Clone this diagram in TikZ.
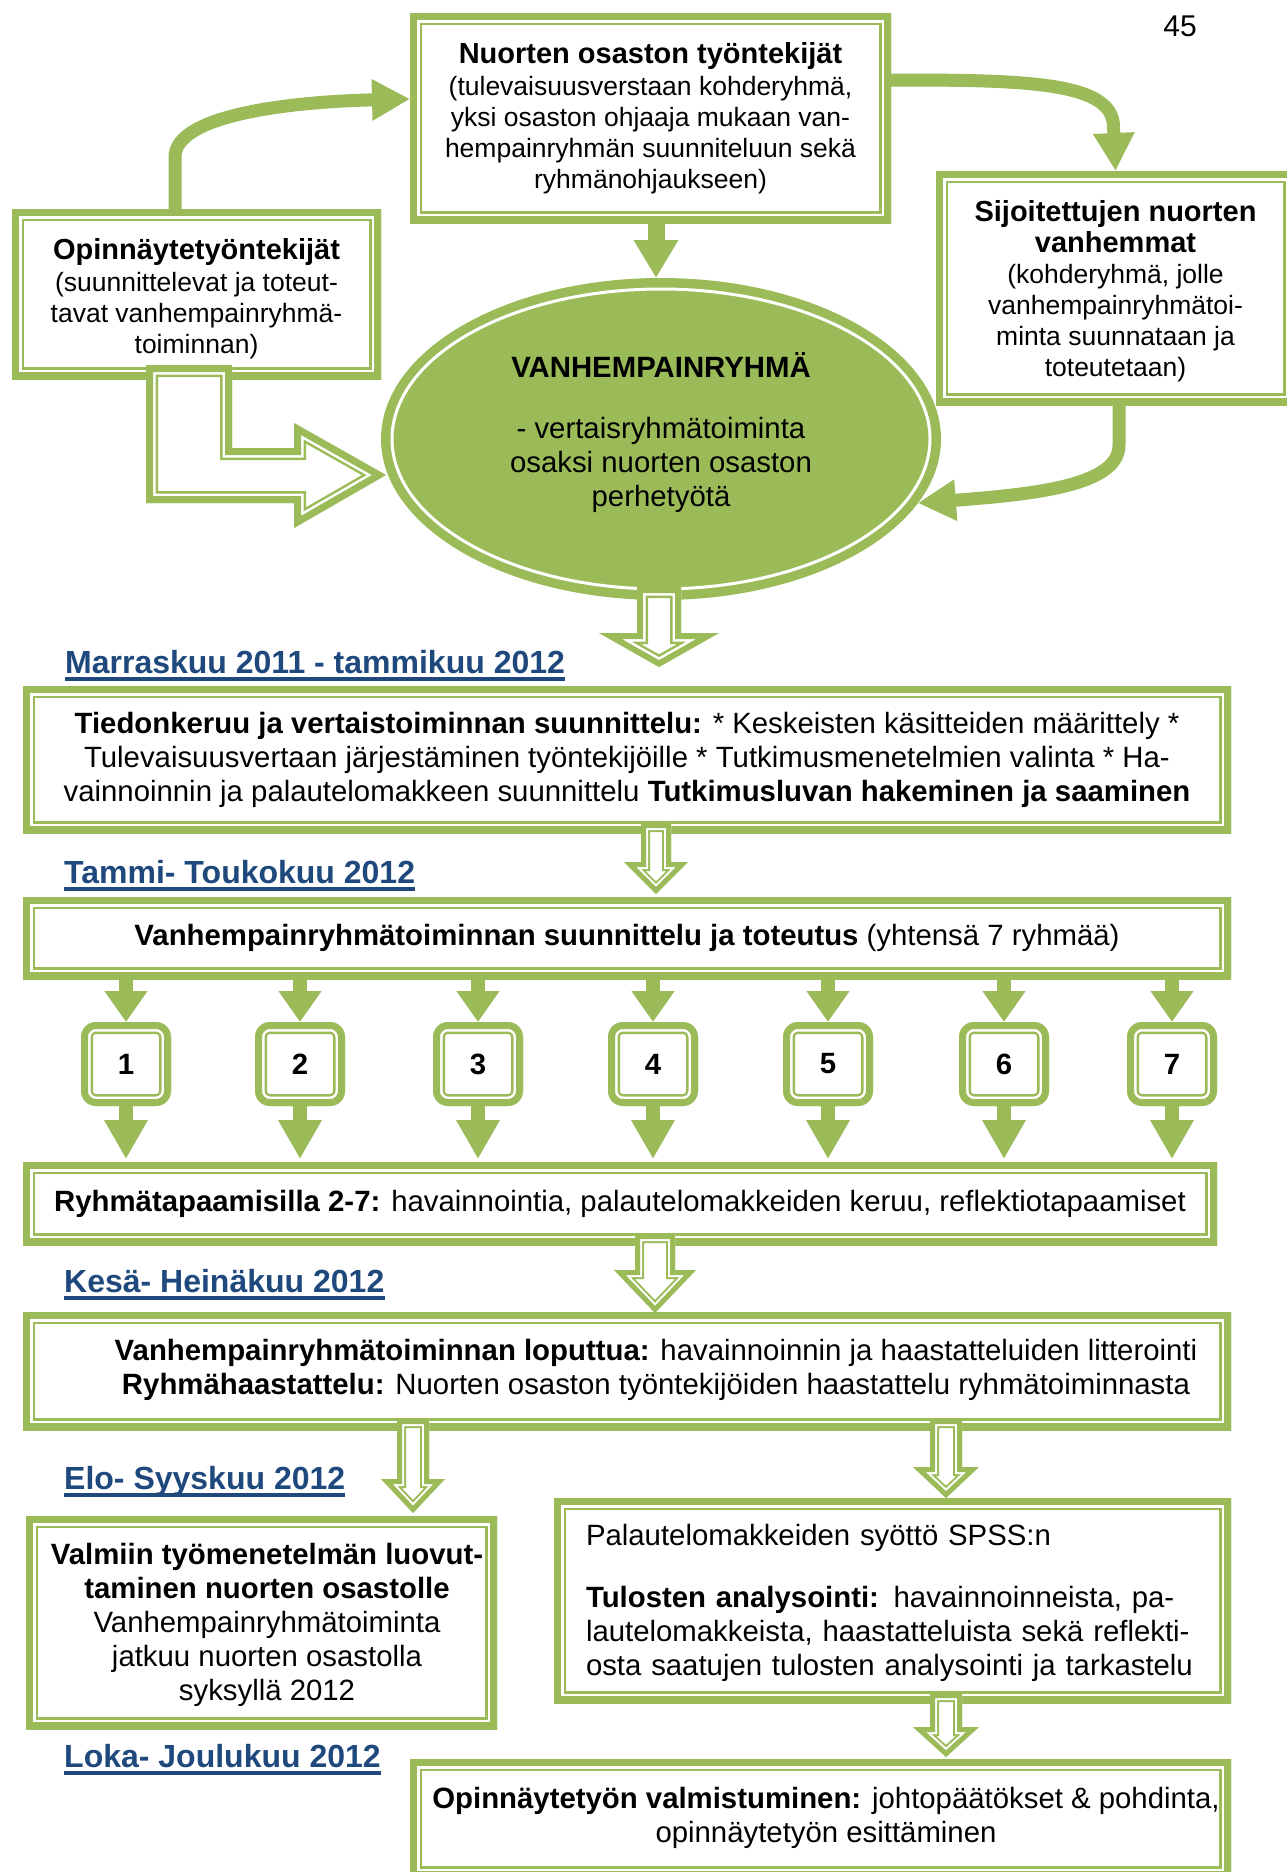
\documentclass[tikz,border=0pt]{standalone}
\usepackage{fontspec}
\setmainfont{Liberation Sans}
\usetikzlibrary{arrows.meta,calc,shapes.geometric}
\definecolor{G}{RGB}{155,187,89}
\definecolor{B}{RGB}{31,73,125}
\newcommand{\bandrect}[3]{%
  \draw[G,line width=24pt,#3] (#1) rectangle (#2);
  \draw[white,line width=19pt,#3] (#1) rectangle (#2);
  \draw[G,line width=14pt,#3] (#1) rectangle (#2);}
\newcommand{\bandpath}[4]{%
  \begin{scope}
  \clip #4;
  \fill[white] #4;
  \draw[G,line width=#1,line join=miter,miter limit=25] #4;
  \draw[white,line width=#2,line join=miter,miter limit=25] #4;
  \draw[G,line width=#3,line join=miter,miter limit=25] #4;
  \end{scope}}
\newcommand{\hollow}[6]{%
  \bandpath{18pt}{14pt}{10pt}{({#1-#5},#2) -- ({#1+#5},#2) -- ({#1+#5},#3) -- ({#1+#6},#3) -- (#1,#4) -- ({#1-#6},#3) -- ({#1-#5},#3) -- cycle}}
\newcommand{\ttlfont}{\bfseries\fontsize{29}{34}\selectfont}
\newcommand{\smallfnt}{\fontsize{26.5}{31}\selectfont}
\newcommand{\bodyfnt}{\fontsize{29.35}{34}\selectfont}
\begin{document}
\begin{tikzpicture}[x=1pt,y=-1pt,
  dbox/.style={rectangle, fill=white, inner sep=0pt, outer sep=0pt, align=center,
    path picture={\bandrect{path picture bounding box.south west}{path picture bounding box.north east}{}}},
  rbox/.style={rectangle, rounded corners=15pt, fill=white, inner sep=0pt, outer sep=0pt,
    minimum width=90pt, minimum height=84pt, font=\bfseries\bodyfnt,
    path picture={\bandrect{path picture bounding box.south west}{path picture bounding box.north east}{rounded corners=15pt}}},
  txt/.style={inner sep=0pt, outer sep=0pt, align=center, font=\bodyfnt},
  stxt/.style={inner sep=0pt, outer sep=0pt, align=center, font=\smallfnt},
  lab/.style={anchor=base west, inner sep=0pt, text=B, font=\bfseries\fontsize{32}{38}\selectfont},
  uline/.style={B, line width=4pt},
  garrow/.style={G, line width=13pt, -{Triangle[width=39pt,length=38pt]}},
  tarrow/.style={G, line width=14pt, -{Triangle[width=41pt,length=31pt]}},
  barrow/.style={G, line width=14pt, -{Triangle[width=41pt,length=39pt]}}
]
\useasboundingbox (0,0) rectangle (1287,1872);
\fill[white] (0,0) rectangle (1287,1872);
\clip (0,0) rectangle (1287,1872);

\node[inner sep=0pt, font=\fontsize{30}{34}\selectfont] (pg) at (1180,26) {45};

% top part
\node[dbox, minimum width=481pt, minimum height=210pt] (top) at (650.5,118) {};
\node[stxt] (topt) at (650.5,118)
  {{\ttlfont Nuorten osaston työntekijät}\\[1pt](tulevaisuusverstaan kohderyhmä,\\yksi osaston ohjaaja mukaan van-\\hempainryhmän suunniteluun sekä\\ryhmänohjaukseen)};
\node[dbox, minimum width=369pt, minimum height=170pt] (opi) at (196.5,294) {};
\node[stxt] (opit) at (196.5,298.5)
  {{\ttlfont Opinnäytetyöntekijät}\\[1pt](suunnittelevat ja toteut-\\tavat vanhempainryhmä-\\toiminnan)};
\node[dbox, minimum width=359pt, minimum height=234pt] (sij) at (1115.5,288) {};
\node[stxt] (sijt) at (1115.5,291)
  {{\ttlfont Sijoitettujen nuorten}\\{\ttlfont vanhemmat}\\(kohderyhmä, jolle\\vanhempainryhmätoi-\\minta suunnataan ja\\toteutetaan)};

\node[ellipse, fill=G, minimum width=560pt, minimum height=322pt, inner sep=0pt, outer sep=0pt,
  path picture={\draw[white,line width=3pt] (path picture bounding box.center) ellipse [x radius=269pt, y radius=150pt];}] (ell) at (661,439) {};
\node[txt] (ellt) at (661,433) {{\bfseries VANHEMPAINRYHMÄ}\\[27pt]- vertaisryhmätoiminta\\osaksi nuorten osaston\\perhetyötä};

% curved arrows
\draw[garrow] ($(opi.north)+(-21.5,0)$) -- ($(opi.north)+(-21.5,-52)$)
  .. controls ($(opi.north)+(-21.5,-92)$) and ($(top.north west)+(-130,89)$) .. ($(top.north west)+(0,86)$);
\draw[garrow] ($(top.north east)+(0,67)$) .. controls ($(top.north east)+(130,67)$) and ($(sij.north)+(-3,-90)$) .. ($(sij.north)+(-2,-45)$) -- (sij.north);
\draw[G, line width=17pt, -{Triangle[width=42pt,length=38pt]}] ($(top.south)+(5.5,0)$) -- ($(ell.north)+(-5,0)$);
\draw[garrow] ($(sij.south)+(3.5,0)$) -- ($(sij.south)+(3.5,40)$)
  .. controls ($(sij.south)+(3.5,80)$) and ($(ell.-14)+(120,-9)$) .. (ell.-14);

% L-shaped hollow arrow
\bandpath{24pt}{19pt}{14pt}{(146,365) -- (232,365) -- (232,448) -- (294,448) -- (294,423) -- (386,475) -- (294,528) -- (294,503) -- (146,503) -- cycle}

% hollow arrow below ellipse
\bandpath{22pt}{17pt}{12pt}{(637,587) -- (681,587) -- (681,633) -- (719,633) -- (659,667) -- (599,633) -- (637,633) -- cycle}

% timeline
\node[lab] (L1) at (65,673) {Marraskuu 2011 - tammikuu 2012};
\draw[uline] ($(L1.base west)+(0,6)$) -- ($(L1.base east)+(0,6)$);
\node[dbox, minimum width=1208pt, minimum height=147pt, font=\bodyfnt] (b1) at (627,759.5)
  {\textbf{Tiedonkeruu ja vertaistoiminnan suunnittelu:} * Keskeisten käsitteiden määrittely *\\Tulevaisuusvertaan järjestäminen työntekijöille * Tutkimusmenetelmien valinta * Ha-\\vainnoinnin ja palautelomakkeen suunnittelu \textbf{Tutkimusluvan hakeminen ja saaminen}};
\hollow{656}{823}{862}{894}{15}{32}

\node[lab] (L2) at (64,883) {Tammi- Toukokuu 2012};
\draw[uline] ($(L2.base west)+(0,6)$) -- ($(L2.base east)+(0,6)$);
\node[dbox, minimum width=1208pt, minimum height=82pt, font=\bodyfnt] (b2) at (627,938)
  {\textbf{Vanhempainryhmätoiminnan suunnittelu ja toteutus} (yhtensä 7 ryhmää)};

\node[dbox, minimum width=1194pt, minimum height=83pt, font=\bodyfnt] (b3) at (620,1203.5)
  {\textbf{Ryhmätapaamisilla 2-7:} havainnointia, palautelomakkeiden keruu, reflektiotapaamiset};

\foreach \i/\x in {1/126,2/300,3/478,4/653,5/828,6/1004,7/1172}{
  \node[rbox] (n\i) at (\x,1064) {\i};
  \draw[tarrow] (b2.south -| n\i.north) -- (n\i.north);
  \draw[barrow] (n\i.south) -- ($(n\i.south |- b3.north)+(0,-3)$);
}

\hollow{655}{1234}{1270}{1313}{20}{41}

\node[lab] (L3) at (64,1292) {Kesä- Heinäkuu 2012};
\draw[uline] ($(L3.base west)+(0,6)$) -- ($(L3.base east)+(0,6)$);
\node[dbox, minimum width=1208pt, minimum height=118pt] (b4) at (627,1371) {};
\node[txt] (b4t) at (656,1370)
  {\textbf{Vanhempainryhmätoiminnan loputtua:} havainnoinnin ja haastatteluiden litterointi\\\textbf{Ryhmähaastattelu:} Nuorten osaston työntekijöiden haastattelu ryhmätoiminnasta};

\node[lab] (L4) at (64,1489) {Elo- Syyskuu 2012};
\draw[uline] ($(L4.base west)+(0,6)$) -- ($(L4.base east)+(0,6)$);
\node[dbox, minimum width=471pt, minimum height=213pt] (b5) at (261.5,1622.5) {};
\node[txt] (b5t) at (267,1625)
  {\textbf{Valmiin työmenetelmän luovut-}\\\textbf{taminen nuorten osastolle}\\Vanhempainryhmätoiminta\\jatkuu nuorten osastolla\\syksyllä 2012};
\node[dbox, minimum width=677pt, minimum height=205pt] (b6) at (892.5,1600.5) {};
\node[txt, text width=614pt, align=left] (b6t) at (893,1603)
  {Palautelomakkeiden syöttö SPSS:n\\[28pt]\makebox[614pt][s]{\textbf{Tulosten analysointi:} havainnoinneista, pa-}\\\makebox[614pt][s]{lautelomakkeista, haastatteluista sekä reflekti-}\\osta saatujen tulosten analysointi ja tarkastelu};

\hollow{413}{1419}{1479}{1513}{16}{32}
\hollow{946}{1419}{1467}{1498}{16}{33}

\node[lab] (L5) at (64,1767) {Loka- Joulukuu 2012};
\draw[uline] ($(L5.base west)+(0,6)$) -- ($(L5.base east)+(0,6)$);
\node[dbox, minimum width=821pt, minimum height=119pt] (b7) at (820.5,1818.5) {};
\node[txt] (b7t) at (826,1817.5)
  {\textbf{Opinnäytetyön valmistuminen:} johtopäätökset \& pohdinta,\\opinnäytetyön esittäminen};
\hollow{946}{1693}{1727}{1757}{16}{33}
\end{tikzpicture}
\end{document}
